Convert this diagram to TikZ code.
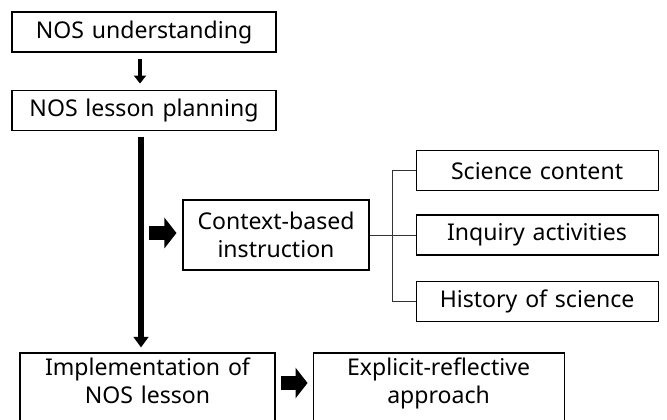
\documentclass[tikz,border=0pt]{standalone}
\usepackage{fontspec}
\setmainfont[WordSpace=1.3]{Noto Sans}
\usetikzlibrary{arrows.meta, positioning, calc}

\begin{document}
\begin{tikzpicture}[
    x=0.75pt, y=-0.75pt,
    box/.style       = {draw, line width=0.8pt, align=center, inner sep=2pt,
                        minimum height=30pt, font=\fontsize{17.3}{21}\selectfont},
    link/.style      = {draw=black!80, line width=0.75pt},
    thinarrow/.style = {line width=3pt, -{Triangle[length=6pt, width=9pt]}},
    longarrow/.style = {line width=4.5pt, -{Triangle[length=8pt, width=11pt]}},
    fatarrow/.style  = {line width=11pt, -{Triangle[length=9pt, width=22.5pt]}}
  ]
  \useasboundingbox (0,0) rectangle (667,419);
  \clip (0,0) rectangle (667,419);

  % NOS chain
  \node[box, minimum width=198pt] (nosu) at (144,32) {NOS understanding};
  \node[box, minimum width=198pt, below=27.75pt of nosu] (nosp) {NOS lesson planning};

  % Context-based instruction
  \node[box, minimum width=139.5pt, minimum height=52.5pt]
    (ctx) at (276,235) {Context-based\\instruction};
  \node[box, minimum width=181.5pt, right=34.5pt of ctx] (inq) {Inquiry activities};
  \node[box, minimum width=181.5pt, above=17.25pt of inq] (sci) {Science content};
  \node[box, minimum width=181.5pt, below=18.75pt of inq] (his) {History of science};

  % Lesson (text sits high, boxes run off the bottom)
  \node[box, minimum width=191.25pt, minimum height=51pt]
    (imp) at (147.5,387) {Implementation of\\NOS lesson\\[-12pt]\mbox{}};
  \node[box, minimum width=188.25pt, minimum height=51pt, right=27.75pt of imp]
    (exp) {Explicit-reflective\\approach\\[-12pt]\mbox{}};

  % Arrows
  \draw[thinarrow] ($(nosu.south)+(-4,6)$) -- ($(nosp.north)+(-4,-6)$);
  \draw[longarrow] ($(nosp.south)+(-3,6)$) -- ($(nosp.south |- imp.north)+(-3,-5)$);
  \draw[fatarrow]  ($(ctx.west)+(-33,-2)$) -- ($(ctx.west)+(-6,-2)$);
  \draw[fatarrow]  ($(imp.east)+(5,-4)$) -- ($(exp.west)+(-5,-4)$);

  % Links to the parts
  \coordinate (fork) at ($(ctx.east)+(23,0)$);
  \draw[link] (ctx.east) -- (inq.west);
  \draw[link] (sci.west) -| (fork) |- (his.west);
\end{tikzpicture}
\end{document}
